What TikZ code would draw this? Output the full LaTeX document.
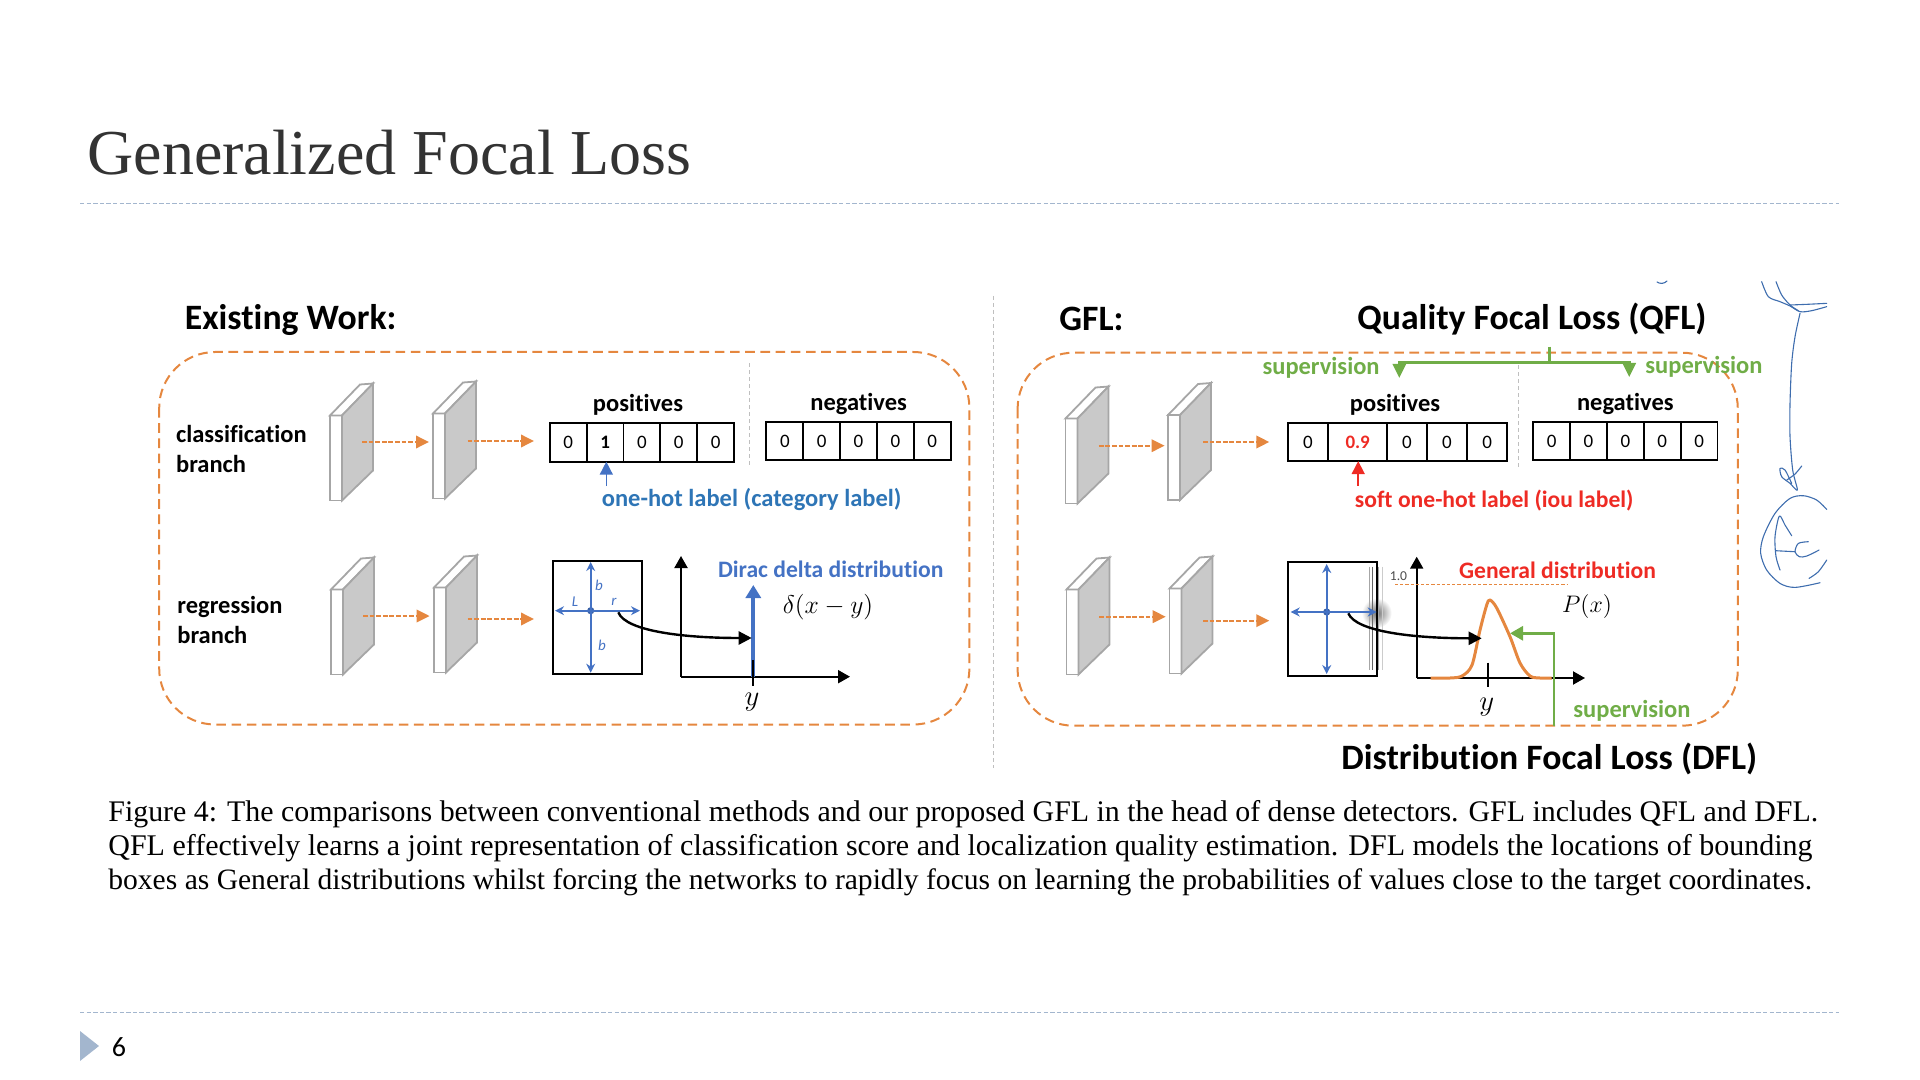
\documentclass[tikz,border=0pt]{standalone}
\usepackage{fontspec}
\setmainfont{Liberation Serif}
\newfontfamily\calfont[Ligatures=NoCommon]{Carlito}
\usetikzlibrary{arrows.meta,calc}
\definecolor{slateline}{HTML}{A3B6CE}
\definecolor{lossorange}{HTML}{E5873F}
\definecolor{onehotblue}{HTML}{2E75B6}
\definecolor{boxblue}{HTML}{4472C4}
\definecolor{superGreen}{HTML}{70AD47}
\definecolor{softred}{HTML}{EE2B24}
\definecolor{inkblue}{HTML}{3E6DAE}
\tikzset{x=0.5pt, y=-0.5pt,
	panel/.style={draw=lossorange, line width=1pt, dash pattern=on 4.8pt off 2.8pt, rounded corners=28pt},
	rulerline/.style={draw=slateline, line width=0.5pt, dash pattern=on 2.2pt off 1.1pt},
	splitline/.style={draw=black!25, line width=0.5pt, dash pattern=on 2pt off 1.5pt},
	blockface/.style={draw=black!35, fill=white, line width=0.9pt},
	blockside/.style={draw=black!35, fill=black!21, line width=0.9pt},
	flow/.style={draw=lossorange, line width=1.1pt, dash pattern=on 2.4pt off 0.9pt,
		-{Triangle[length=6.5pt,width=6.2pt,fill=lossorange,sharp]}},
	heading/.style={inner sep=0pt, font=\calfont\bfseries\fontsize{17.85}{21}\selectfont},
	lab/.style={inner sep=0pt, font=\calfont\bfseries\fontsize{12.25}{14}\selectfont},
	labsmall/.style={inner sep=0pt, font=\calfont\bfseries\fontsize{11.8}{14}\selectfont},
	capline/.style={anchor=base west, inner sep=0pt},
	cellbox/.style={draw, line width=0.95pt, inner sep=0pt, minimum height=19.2pt, outer sep=0pt,
		font=\calfont\fontsize{9.5}{11}\selectfont},
	axis/.style={draw=black, line width=1pt, -{Triangle[length=6pt,width=6.5pt]}},
	tick/.style={draw=black, line width=0.9pt},
	pointer/.style={draw=black, line width=1.2pt, -{Triangle[length=6.5pt,width=6.5pt]}},
	bbox/.style={draw=boxblue, line width=0.9pt, {Stealth[length=4.5pt,width=4.5pt]}-{Stealth[length=4.5pt,width=4.5pt]}},
	hand/.style={inner sep=0pt, text=boxblue, font=\calfont\itshape\fontsize{7.5}{9}\selectfont},
	green line/.style={draw=superGreen, line width=1.4pt},
	ink/.style={draw=inkblue, line width=0.55pt, line cap=round, line join=round}
}
\newcommand{\featblock}[2]{
	\begin{scope}[shift={(#1,#2)}]
		\filldraw[blockface] (0,0) rectangle (12,85);
		\filldraw[blockface] (0,0) -- (30,-31) -- (43,-32) -- (12,0) -- cycle;
		\filldraw[blockside] (12,0) -- (43,-32) -- (43,55) -- (12,85) -- cycle;
	\end{scope}
}
\begin{document}
\begin{tikzpicture}
	\useasboundingbox (0,0) rectangle (1920,1080);

	\node[anchor=base west, inner sep=0pt, text=black!80, font=\fontsize{32}{36}\selectfont] (title) at (87,175) {Generalized Focal Loss};
	\coordinate (topa) at (80,203.5);
	\coordinate (topb) at (1839,203.5);
	\draw[rulerline] (topa) -- (topb);
	\coordinate (bota) at (80,1012);
	\coordinate (botb) at (1839,1012);
	\draw[rulerline] (bota) -- (botb);
	\fill[slateline] (80,1031) -- (99,1046) -- (80,1061) -- cycle;
	\node[inner sep=0pt, font=\calfont\fontsize{14}{16}\selectfont] (pagenum) at (119,1047) {6};
	\coordinate (midtop) at (993,296);
	\coordinate (midbot) at (993,768);
	\draw[splitline] (midtop) -- (midbot);

	\node[heading, anchor=west] (existing) at (184.5,320) {Existing Work:};
	\draw[panel] (159.2,352) rectangle (969.4,724.5);
	\node[lab, anchor=west] (clsa) at (175.7,434) {classification};
	\node[lab, anchor=west] (clsb) at (175.7,464) {branch};
	\node[lab, anchor=west] (rega) at (177,607) {regression};
	\node[lab, anchor=west] (regb) at (177,635) {branch};

	\featblock{330}{415.5}
	\featblock{433}{413.5}
	\featblock{331}{589.5}
	\featblock{434}{587.5}
	\coordinate (fa1) at (362,442);
	\coordinate (fa2) at (429,442);
	\coordinate (fa3) at (467.5,441);
	\coordinate (fa4) at (534,441);
	\coordinate (fa5) at (363,616);
	\coordinate (fa6) at (429.6,616);
	\coordinate (fa7) at (467.5,619);
	\coordinate (fa8) at (534,619);
	\draw[flow] (fa1) -- (fa2);
	\draw[flow] (fa3) -- (fa4);
	\draw[flow] (fa5) -- (fa6);
	\draw[flow] (fa7) -- (fa8);

	\node[lab] (posa) at (638,405) {positives};
	\node[lab] (nega) at (858.6,404) {negatives};
	\foreach \v [count=\i] in {0,{\textbf{1}},0,0,0}
		\node[cellbox, minimum width=18.42pt] (pa\i) at ({549.8+36.84*(\i-0.5)},442.5) {\v};
	\foreach \i in {1,...,5}
		\node[cellbox, minimum width=18.42pt] (na\i) at ({766.4+36.86*(\i-0.5)},441) {0};
	\coordinate (splita) at (749,363);
	\coordinate (splitb) at (749,468);
	\draw[splitline] (splita) -- (splitb);
	\node[lab, anchor=west, text=onehotblue] (onehot) at (601.5,499) {one-hot label (category label)};
	\coordinate (onehotfoot) at (606.3,486);
	\draw[draw=boxblue, line width=0.8pt, -{Triangle[length=6.5pt,width=6.5pt]}] (onehotfoot) -- (pa2.south -| onehotfoot);

	\node[draw, line width=0.9pt, minimum width=44.5pt, minimum height=56.8pt, inner sep=0pt] (boxa) at (597.2,617.5) {};
	\node[circle, fill=boxblue!85!black, inner sep=0pt, minimum size=3.6pt] (centa) at (590.7,610.7) {};
	\draw[bbox] (590.7,562) -- (590.7,672.7);
	\draw[bbox] (555,610.7) -- (640,610.7);
	\node[hand] (ta) at (599,585) {b};
	\node[hand] (la) at (575,602) {L};
	\node[hand] (ra) at (614,602) {r};
	\node[hand] (ba) at (602,645) {b};
	\coordinate (origa) at (681,676.7);
	\coordinate (ytopa) at (681,556);
	\coordinate (xenda) at (850,676.7);
	\draw[axis] (origa) -- (ytopa);
	\draw[axis] (origa) -- (xenda);
	\node[labsmall, anchor=west, text=boxblue] (dirac) at (717.6,569) {Dirac delta distribution};
	\coordinate (diraca) at (753.3,676.7);
	\coordinate (diracb) at (753.3,585);
	\draw[draw=boxblue, line width=2pt, -{Triangle[length=6.5pt,width=7.5pt]}] (diraca) -- (diracb);
	\coordinate (ticka) at (753.3,660);
	\coordinate (tickb) at (753.3,686);
	\draw[tick] (ticka) -- (tickb);
	\coordinate (jumpa) at (618.3,612.3);
	\coordinate (jumpb) at (751.7,638);
	\draw[pointer] (jumpa) .. controls (626,632) and (688,638) .. (jumpb);
	\node[inner sep=0pt, font=\fontsize{14}{16}\selectfont] (ya) at (752,702) {$y$};
	\node[inner sep=0pt, font=\fontsize{14}{16}\selectfont] (delta) at (828,606.7) {\scalebox{0.89}{$\delta(x-y)$}};

	\node[heading, anchor=west] (gfl) at (1059,319) {GFL:};
	\node[heading, anchor=west] (qfl) at (1357,319) {Quality Focal Loss (QFL)};
	\node[heading, anchor=west] (dfl) at (1341,759) {Distribution Focal Loss (DFL)};
	\draw[panel] (1017.6,352.7) rectangle (1737.8,725.7);
	\coordinate (qa) at (1549.6,346.7);
	\coordinate (qb) at (1549.6,362.7);
	\coordinate (qc) at (1399.3,362.7);
	\coordinate (qd) at (1399.3,378);
	\coordinate (qe) at (1629.2,362.7);
	\coordinate (qf) at (1629.2,377);
	\draw[green line] (qa) -- (qb);
	\draw[green line, -{Triangle[length=7pt,width=6.5pt]}] (qb) -- (qc) -- (qd);
	\draw[green line, -{Triangle[length=7pt,width=6.5pt]}] (qb) -- (qe) -- (qf);
	\node[lab, anchor=east, text=superGreen] (supa) at (1380,368) {supervision};
	\node[lab, anchor=west, text=superGreen] (supb) at (1645,367) {supervision};

	\featblock{1065.5}{418.5}
	\featblock{1168}{415}
	\featblock{1066.5}{589.5}
	\featblock{1169.5}{588.5}
	\coordinate (fb1) at (1098.7,445.7);
	\coordinate (fb2) at (1164.6,445.7);
	\coordinate (fb3) at (1203,442);
	\coordinate (fb4) at (1269.3,442);
	\coordinate (fb5) at (1099.3,616.7);
	\coordinate (fb6) at (1165.7,616.7);
	\coordinate (fb7) at (1203,620.7);
	\coordinate (fb8) at (1269.3,620.7);
	\draw[flow] (fb1) -- (fb2);
	\draw[flow] (fb3) -- (fb4);
	\draw[flow] (fb5) -- (fb6);
	\draw[flow] (fb7) -- (fb8);

	\node[lab] (posb) at (1395,405) {positives};
	\node[lab] (negb) at (1625.3,404) {negatives};
	\foreach \cx/\cw/\v [count=\i] in {1308/40/0,1357.65/59.3/{\textcolor{softred}{\textbf{0.9}}},1407/39.5/0,1446.8/40/0,1487.1/40.6/0}
		\node[cellbox, minimum width=\cw*0.5pt] (pb\i) at (\cx,441.9) {\v};
	\foreach \i in {1,...,5}
		\node[cellbox, minimum width=18.42pt] (nb\i) at ({1533.2+36.86*(\i-0.5)},441) {0};
	\coordinate (splitc) at (1518.4,365);
	\coordinate (splitd) at (1518.4,468);
	\draw[splitline] (splitc) -- (splitd);
	\node[labsmall, anchor=west, text=softred] (soft) at (1354.5,500.5) {soft one-hot label (iou label)};
	\coordinate (softfoot) at (1358.2,485.7);
	\draw[draw=softred, line width=0.8pt, -{Triangle[length=6.5pt,width=6.5pt]}] (softfoot) -- (pb2.south -| softfoot);

	\shade[inner color=black!55, outer color=white] (1376.7,613) circle (15);
	\foreach \gx/\gc in {1369.3/35,1372.7/60,1378.7/35,1382.7/20}
		\draw[draw=black!\gc, line width=0.5pt] (\gx,566.7) -- (\gx,670);
	\node[draw, line width=0.9pt, minimum width=44.5pt, minimum height=56.8pt, inner sep=0pt] (boxb) at (1332.8,618.85) {};
	\node[circle, fill=boxblue!85!black, inner sep=0pt, minimum size=3.6pt] (centb) at (1326.7,612) {};
	\draw[bbox] (1326.7,564) -- (1326.7,674);
	\draw[bbox] (1290.7,612) -- (1376.7,612);
	\coordinate (origb) at (1416.7,678);
	\coordinate (ytopb) at (1416.7,556.7);
	\coordinate (xendb) at (1585,678);
	\draw[axis] (origb) -- (ytopb);
	\draw[axis] (origb) -- (xendb);
	\coordinate (onea) at (1395,584.7);
	\coordinate (oneb) at (1566.7,584.7);
	\draw[draw=lossorange, line width=0.5pt, dash pattern=on 1.6pt off 1pt] (onea) -- (oneb);
	\node[inner sep=0pt, text=black!70, font=\calfont\fontsize{6.8}{8}\selectfont] (onelab) at (1398.5,576.5) {1.0};
	\node[labsmall, anchor=west, text=softred] (general) at (1458.7,570.5) {General distribution};
	\coordinate (tickc) at (1488.3,662.7);
	\coordinate (tickd) at (1488.3,687.3);
	\draw[tick] (tickc) -- (tickd);
	\draw[draw=lossorange, line width=1.5pt, line join=round] plot[smooth, tension=0.5] coordinates {(1430.7,678) (1450,678) (1462,676) (1472,665) (1480,630) (1486.7,605) (1490,600) (1496.7,608) (1510,636.7) (1520,663) (1530,676) (1540,678) (1551.7,678)};
	\coordinate (jumpc) at (1348.3,613.3);
	\coordinate (jumpd) at (1481.7,638.3);
	\draw[pointer] (jumpc) .. controls (1356,632) and (1415,638.3) .. (jumpd);
	\coordinate (dfa) at (1554,725.7);
	\coordinate (dfb) at (1554,633.3);
	\coordinate (dfc) at (1510,633.3);
	\draw[green line, -{Triangle[length=6.5pt,width=7pt]}] (dfa) -- (dfb) -- (dfc);
	\node[inner sep=0pt, font=\fontsize{14}{16}\selectfont] (yb) at (1486.7,707) {$y$};
	\node[inner sep=0pt, font=\fontsize{14}{16}\selectfont] (px) at (1587,607) {\scalebox{0.83}{$P(x)$}};
	\node[lab, anchor=west, text=superGreen] (supc) at (1573,711) {supervision};

	\node[capline, font=\fontsize{14.95}{17}\selectfont] (capa) at (108,821) {Figure 4: The comparisons between conventional methods and our proposed GFL in the head of dense detectors. GFL includes QFL and DFL.};
	\node[capline, font=\fontsize{15}{17}\selectfont] (capb) at (108,855.3) {QFL effectively learns a joint representation of classification score and localization quality estimation. DFL models the locations of bounding};
	\node[capline, font=\fontsize{14.78}{17}\selectfont] (capc) at (108,889.6) {boxes as General distributions whilst forcing the networks to rapidly focus on learning the probabilities of values close to the target coordinates.};

	\begin{scope}[shift={(1740,270)}, x=0.1667pt, y=-0.1667pt]
		\draw[ink] plot[smooth] coordinates {(65,35) (85,80) (120,95) (150,108) (180,125) (215,122) (260,110)};
		\draw[ink] plot[smooth] coordinates {(108,35) (125,75) (150,105) (175,122)};
		\draw[ink] plot[smooth] coordinates {(150,105) (200,103) (260,100)};
		\draw[ink] plot[smooth] coordinates {(180,130) (165,200) (155,280) (150,400) (150,500) (158,600) (172,660) (150,640) (125,620) (120,595) (135,600) (155,640)};
		\draw[ink] plot[smooth] coordinates {(140,630) (165,612) (185,588)};
		\draw[ink] plot[smooth] coordinates {(260,718) (230,690) (190,677) (150,685) (105,730) (70,800) (62,850) (80,900) (120,940) (165,952) (240,938)};
		\draw[ink] plot[smooth] coordinates {(260,870) (235,905) (207,925)};
		\draw[ink] plot[smooth] coordinates {(155,797) (135,765) (118,738) (105,800) (108,860) (120,900)};
		\draw[ink] plot[smooth] coordinates {(108,842) (165,845)};
		\draw[ink] plot[smooth] coordinates {(205,815) (175,820) (165,845) (178,860) (200,858) (237,840)};
	\end{scope}
	\coordinate (arca) at (1657,282);
	\coordinate (arcb) at (1667,281);
	\draw[ink] (arca) .. controls (1660,284) and (1664,284) .. (arcb);
\end{tikzpicture}
\end{document}
